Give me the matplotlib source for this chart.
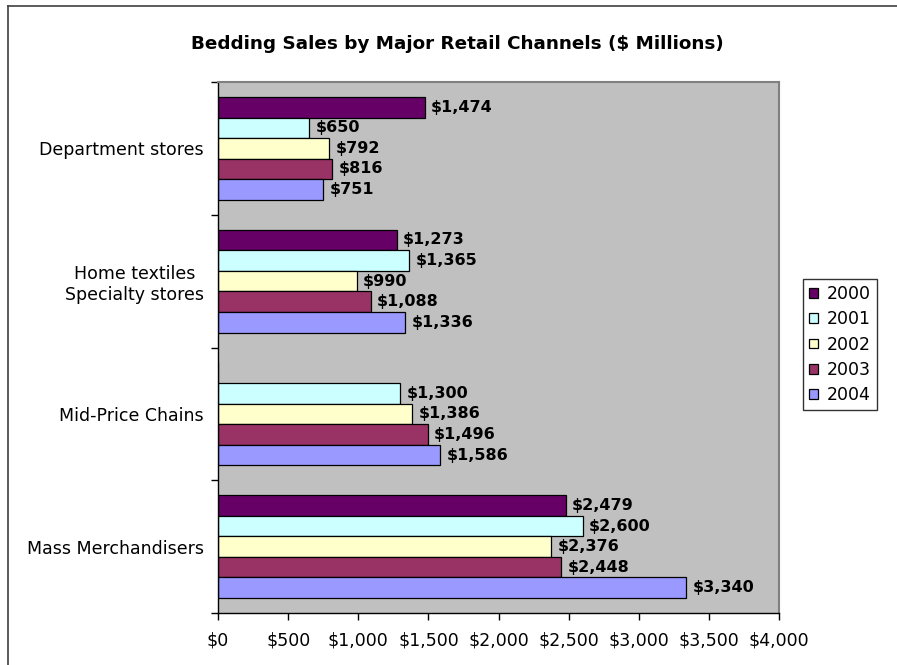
import numpy as np
import matplotlib
matplotlib.use("Agg")
import matplotlib.pyplot as plt
from matplotlib.lines import Line2D
from matplotlib.ticker import FuncFormatter

# Bedding sales by retail channel, $ millions (top to bottom as drawn)
channels = ["Department stores", "Home textiles\nSpecialty stores",
            "Mid-Price Chains", "Mass Merchandisers"]
years = ["2000", "2001", "2002", "2003", "2004"]
sales = {
    "2000": [1474, 1273, np.nan, 2479],
    "2001": [650, 1365, 1300, 2600],
    "2002": [792, 990, 1386, 2376],
    "2003": [816, 1088, 1496, 2448],
    "2004": [751, 1336, 1586, 3340],
}
colors = ["#660066", "#CCFFFF", "#FFFFCC", "#993366", "#9999FF"]
xticks = [0, 500, 1000, 1500, 2000, 2500, 3000, 3500, 4000]

plt.rcParams["font.family"] = ["DejaVu Sans"]

W, H = 897, 665
fig = plt.figure(figsize=(W / 100, H / 100), dpi=100)
ax = fig.add_axes([218 / W, 1 - 613 / H, (779 - 218) / W, (613 - 82) / H])
ax.set_facecolor("#C0C0C0")

# chart frame (only left and top edges fall inside the image)
fig.add_artist(Line2D([8 / W, 8 / W], [0, 1 - 6 / H], transform=fig.transFigure,
                      color="#404040", lw=1.2))
fig.add_artist(Line2D([8 / W, 1], [1 - 6 / H, 1 - 6 / H], transform=fig.transFigure,
                      color="#404040", lw=1.2))

n = len(years)
bh = 0.155
ypos = np.arange(len(channels))[::-1]  # Department stores at top
for i, (yr, col) in enumerate(zip(years, colors)):
    y = ypos + (n / 2 - i - 0.5) * bh
    vals = np.array(sales[yr], dtype=float)
    ax.barh(y, np.nan_to_num(vals), height=bh, color=col, edgecolor="black",
            lw=0.9, label=yr, zorder=2)
    for yy, v in zip(y, vals):
        if np.isnan(v):
            continue
        ax.annotate(f"${v:,.0f}", (v, yy), xytext=(4.5, 0), textcoords="offset points",
                    ha="left", va="center", fontsize=11.5, fontweight="bold")

ax.set_xlim(0, 4000)
ax.set_ylim(-0.5, len(channels) - 0.5)
ax.set_xticks(xticks)
ax.xaxis.set_major_formatter(FuncFormatter(lambda v, p: f"${v:,.0f}"))
ax.tick_params(axis="x", labelsize=12.5, length=5, width=1, pad=8)

ax.set_yticks(np.arange(len(channels) + 1) - 0.5)
ax.set_yticklabels([])
ax.set_yticks(ypos, minor=True)
ax.set_yticklabels(channels, minor=True, fontsize=12.5)
for t in ax.get_yticklabels(minor=True):
    t.set_multialignment("center")
ax.tick_params(axis="y", which="major", length=5, width=1)
ax.tick_params(axis="y", which="minor", length=0, pad=10)

for s in ["top", "right"]:
    ax.spines[s].set_color("#808080")
    ax.spines[s].set_linewidth(1.5)
for s in ["left", "bottom"]:
    ax.spines[s].set_color("black")
    ax.spines[s].set_linewidth(1)

fig.text(457 / W, 1 - 44 / H, "Bedding Sales by Major Retail Channels ($ Millions)",
         ha="center", va="center", fontsize=13.2, fontweight="bold")

leg = fig.legend(loc="upper left", bbox_to_anchor=(803 / W, 1 - 279 / H),
                 fontsize=12.5, frameon=True, fancybox=False, edgecolor="black",
                 handlelength=0.5, handleheight=0.5, handletextpad=0.5,
                 labelspacing=0.42, borderpad=0.35, borderaxespad=0)
leg.get_frame().set_linewidth(1)

fig.savefig("out.png", dpi=100)
